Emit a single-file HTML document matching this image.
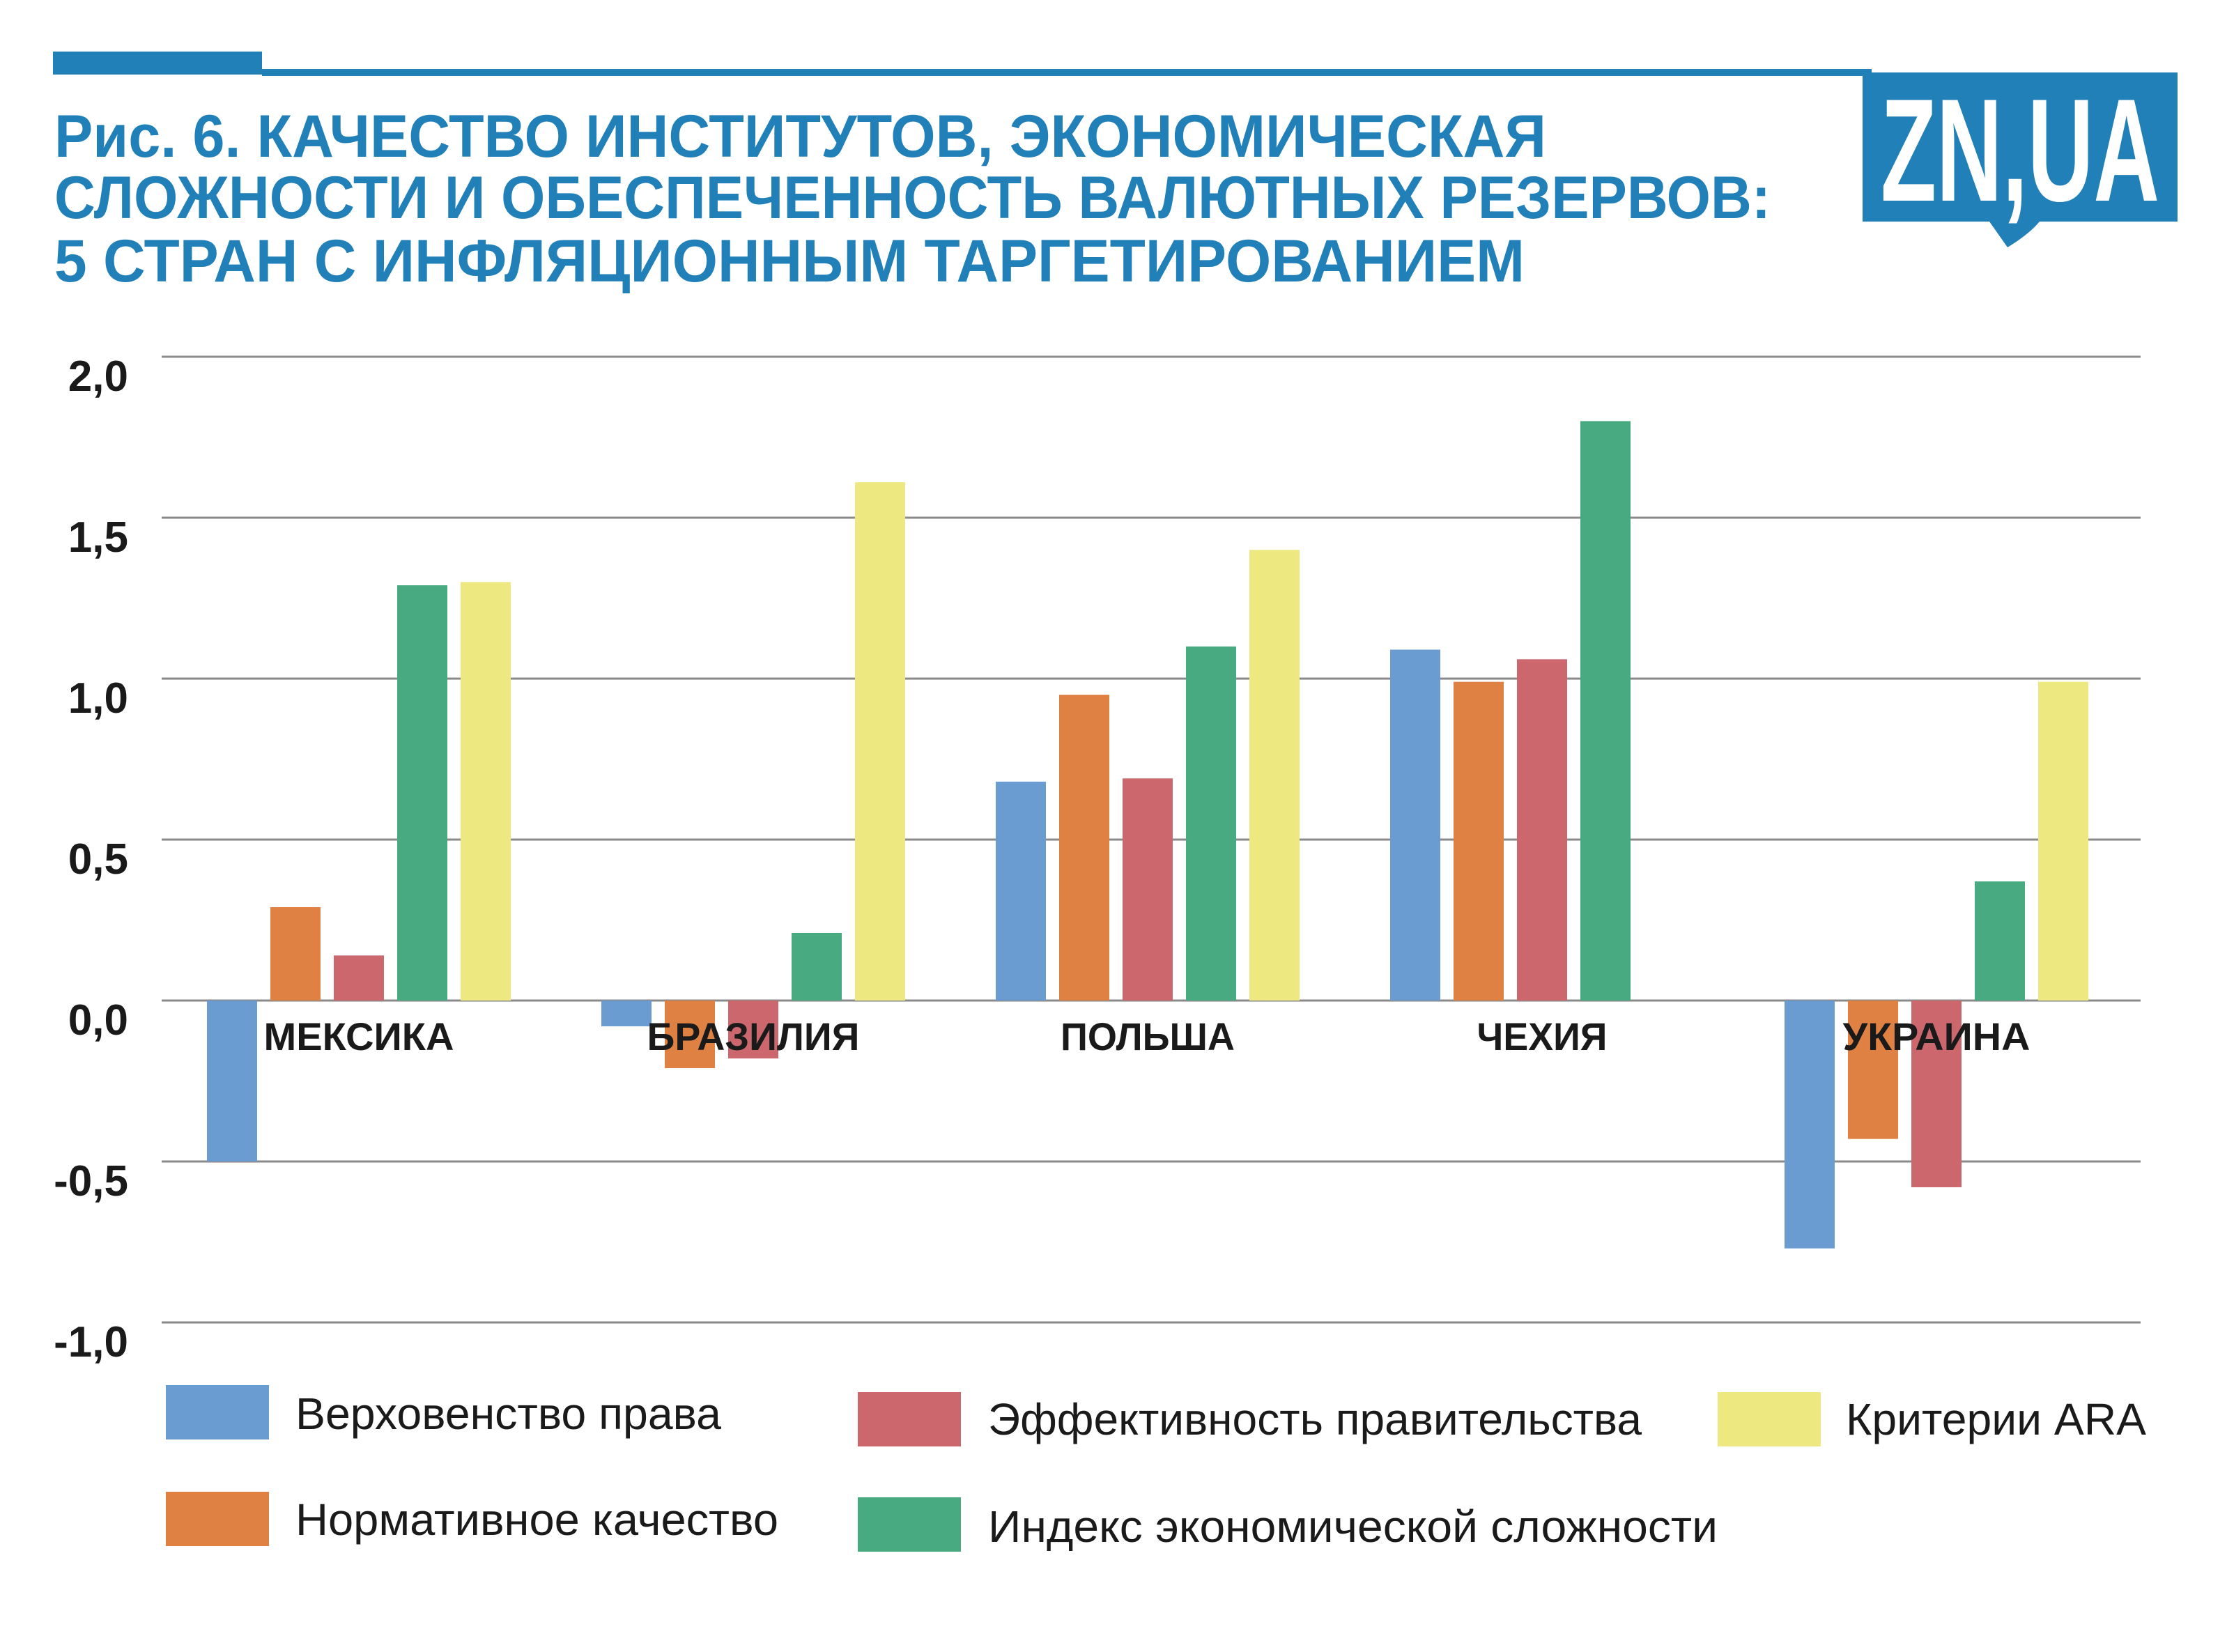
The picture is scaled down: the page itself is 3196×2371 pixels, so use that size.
<!DOCTYPE html>
<html><head><meta charset="utf-8">
<style>
html,body{margin:0;padding:0;background:#fff;}
svg{display:block;}
text{font-family:"Liberation Sans","DejaVu Sans",sans-serif;}
</style></head>
<body>
<svg id="chart" width="3196" height="2371" viewBox="0 0 3196 2371" xmlns="http://www.w3.org/2000/svg">
  <rect x="0" y="0" width="3196" height="2371" fill="#fff"/>
  <rect x="76" y="74" width="300" height="33" fill="#2280b9"/>
  <rect x="376" y="99" width="2310" height="10" fill="#2280b9"/>
  <g>
    <path d="M2673 104 H3125 V318 H2927 Q2912 336 2881 355 L2855 318 H2673 Z" fill="#2280b9"/>
    <text x="2699" y="288" font-size="210" font-weight="bold" fill="#fff" textLength="400" lengthAdjust="spacingAndGlyphs">ZN,UA</text>
  </g>
  <g fill="#2280b9" font-weight="bold" font-size="86">
    <text x="78" y="225" textLength="2141" lengthAdjust="spacingAndGlyphs">Рис. 6. КАЧЕСТВО ИНСТИТУТОВ, ЭКОНОМИЧЕСКАЯ</text>
    <text x="78" y="313" textLength="2463" lengthAdjust="spacingAndGlyphs">СЛОЖНОСТИ И ОБЕСПЕЧЕННОСТЬ ВАЛЮТНЫХ РЕЗЕРВОВ:</text>
    <text x="78" y="404" textLength="2110" lengthAdjust="spacingAndGlyphs">5 СТРАН С ИНФЛЯЦИОННЫМ ТАРГЕТИРОВАНИЕМ</text>
  </g>
  <g id="grid"></g>
  <g id="bars"></g>
  <g id="labels"></g>
  <g id="legend"></g>
</svg>
<script>
const categories = ["МЕКСИКА","БРАЗИЛИЯ","ПОЛЬША","ЧЕХИЯ","УКРАИНА"];
const seriesNames = ["Верховенство права","Нормативное качество","Эффективность правительства","Индекс экономической сложности","Критерии ARA"];
const ruleOfLaw = [-0.5, -0.08, 0.68, 1.09, -0.77];
const regQuality = [0.29, -0.21, 0.95, 0.99, -0.43];
const govEff = [0.14, -0.18, 0.69, 1.06, -0.58];
const econComplexity = [1.29, 0.21, 1.10, 1.80, 0.37];
const araCriteria = [1.30, 1.61, 1.40, null, 0.99];
const yTicks = [2.0, 1.5, 1.0, 0.5, 0.0, -0.5, -1.0];
const yTickLabels = ["2,0","1,5","1,0","0,5","0,0","-0,5","-1,0"];

const colors = ["#6a9cd2","#e08144","#cb676d","#48aa80","#ede87f"];
const series = [ruleOfLaw, regQuality, govEff, econComplexity, araCriteria];
const NS = "http://www.w3.org/2000/svg";
const y0 = 1436, pxPerUnit = 462;
function yScale(v){ return y0 - v*pxPerUnit; }
const groupStart0 = 297, groupStep = 566, barStep = 91, barW = 72;
function xBar(ci, si){ return groupStart0 + ci*groupStep + si*barStep; }
function mk(tag, attrs, parent){ const e=document.createElementNS(NS,tag); for(const k in attrs) e.setAttribute(k,attrs[k]); parent.appendChild(e); return e; }

const grid = document.getElementById('grid');
yTicks.forEach((t,i)=>{
  const y = yScale(t);
  const l = mk('line',{x1:232,x2:3072,y1:y,y2:y,stroke:'#8a8a8a','stroke-width':3},grid);
  
  
  const tx = mk('text',{x:184,y:y+49,'text-anchor':'end','font-size':62,'font-weight':'bold',fill:'#1a1a1a'},grid);
  tx.textContent = yTickLabels[i];
  
  
});

const bars = document.getElementById('bars');
series.forEach((vals,si)=>{
  vals.forEach((v,ci)=>{
    if(v===null || v===undefined) return;
    const yv = yScale(v);
    const r = mk('rect',{x:xBar(ci,si),y:Math.min(yv,y0),width:barW,height:Math.abs(yv-y0),fill:colors[si]},bars);
    
    
  });
});

const labels = document.getElementById('labels');
const catW = [273,305,250,187,269];
categories.forEach((c,ci)=>{
  const cx = xBar(ci,0) + (4*barStep+barW)/2;
  const t = mk('text',{x:cx,y:1507,'text-anchor':'middle','font-size':56,'font-weight':'bold',fill:'#1a1a1a',textLength:catW[ci],lengthAdjust:'spacingAndGlyphs'},labels);
  t.textContent = c;
  
  
});

const legend = document.getElementById('legend');
const legPos = [[238,1988,424,2051,611],[238,2141,424,2203,693],[1231,1998,1418,2059,938],[1231,2149,1418,2213,1047],[2465,1998,2649,2059,431]];
seriesNames.forEach((n,i)=>{
  const p = legPos[i];
  const sw = mk('rect',{x:p[0],y:p[1],width:148,height:78,fill:colors[i]},legend);
  
  
  const t = mk('text',{x:p[2],y:p[3],'font-size':64,fill:'#1a1a1a',textLength:p[4],lengthAdjust:'spacingAndGlyphs'},legend);
  t.textContent = n;
  
  
});
</script>
</body></html>
